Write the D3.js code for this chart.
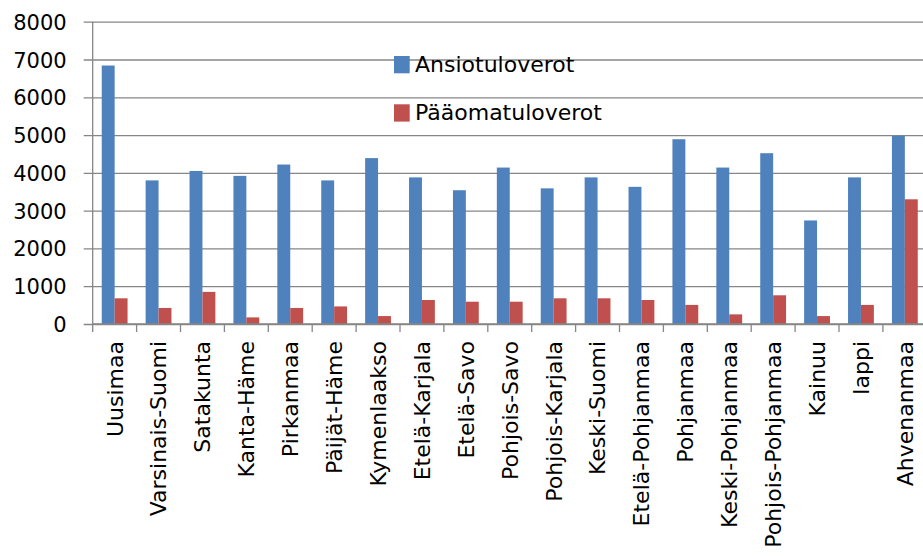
<!DOCTYPE html>
<html>
<head>
<meta charset="utf-8">
<script src="https://cdn.jsdelivr.net/npm/d3@7"></script>
<style>
    html, body { margin: 0; padding: 0; background: #fff; }
    text { font-family: "DejaVu Sans", sans-serif; fill: #000; }
</style>
</head>
<body>
<div id="chart"></div>
<script>
var regions = ["Uusimaa", "Varsinais-Suomi", "Satakunta", "Kanta-Häme", "Pirkanmaa",
    "Päijät-Häme", "Kymenlaakso", "Etelä-Karjala", "Etelä-Savo", "Pohjois-Savo",
    "Pohjois-Karjala", "Keski-Suomi", "Etelä-Pohjanmaa", "Pohjanmaa", "Keski-Pohjanmaa",
    "Pohjois-Pohjanmaa", "Kainuu", "lappi", "Ahvenanmaa"];
var ansiotuloverot = [6840, 3800, 4050, 3920, 4220, 3800, 4390, 3880, 3540, 4140,
    3590, 3880, 3630, 4890, 4140, 4520, 2740, 3880, 4980];
var paaomatuloverot = [680, 425, 850, 175, 425, 465, 210, 635, 590, 590,
    680, 680, 635, 505, 255, 760, 210, 505, 3300];
var seriesNames = ["Ansiotuloverot", "Pääomatuloverot"];
var yTicks = [0, 1000, 2000, 3000, 4000, 5000, 6000, 7000, 8000];

(function () {
    "use strict";

    var width = 923,
        height = 556;

    var colors = ["#4f81bd", "#c0504d"],
        gridColor = "#868686";

    // the plot runs a little past the right edge of the picture
    var left = 92.7,
        right = 926.8,
        top = 21.7,
        bottom = 324;

    var rows = regions.map(function (name, i) {
        return { name: name, values: [ansiotuloverot[i], paaomatuloverot[i]] };
    });

    var x = d3.scaleBand()
        .domain(regions)
        .range([left, right]);

    var y = d3.scaleLinear()
        .domain([0, 8000])
        .range([bottom, top]);

    var inner = d3.scaleBand()
        .domain([0, 1])
        .range([0, x.bandwidth()])
        .paddingInner(0)
        .paddingOuter(0.7);

    var svg = d3.select("#chart").append("svg")
        .attr("width", width)
        .attr("height", height);

    // gridlines and y labels
    var yAxis = svg.append("g")
        .attr("transform", "translate(" + left + ",0)")
        .call(d3.axisLeft(y)
            .tickValues(yTicks)
            .tickFormat(d3.format("d"))
            .tickSize(-(right - left))
            .tickSizeOuter(0)
            .tickPadding(26));
    yAxis.select(".domain").remove();
    yAxis.selectAll(".tick line")
        .attr("x1", -9)
        .attr("stroke", gridColor)
        .attr("stroke-width", 1.3);
    yAxis.selectAll(".tick text")
        .style("font-family", "'DejaVu Sans', sans-serif")
        .style("font-size", "21px")
        .attr("fill", "#000")
        .attr("dy", "0.36em");

    // y axis line
    svg.append("line")
        .attr("x1", left).attr("x2", left)
        .attr("y1", top).attr("y2", bottom)
        .attr("stroke", gridColor)
        .attr("stroke-width", 1.3);

    var g = svg.selectAll("g.region")
        .data(rows)
        .enter().append("g")
        .attr("class", "region")
        .attr("transform", function (d) { return "translate(" + x(d.name) + ",0)"; });

    g.selectAll("rect")
        .data(function (d) { return d.values; })
        .enter().append("rect")
        .attr("x", function (d, i) { return inner(i); })
        .attr("width", inner.bandwidth())
        .attr("y", function (d) { return y(d); })
        .attr("height", function (d) { return y(0) - y(d); })
        .attr("fill", function (d, i) { return colors[i]; });

    // category axis, ticks sit between the bands
    svg.append("line")
        .attr("x1", left).attr("x2", right)
        .attr("y1", bottom).attr("y2", bottom)
        .attr("stroke", gridColor)
        .attr("stroke-width", 1.3);

    svg.selectAll("line.sep")
        .data(d3.range(regions.length + 1))
        .enter().append("line")
        .attr("class", "sep")
        .attr("x1", function (i) { return left + i * x.step(); })
        .attr("x2", function (i) { return left + i * x.step(); })
        .attr("y1", bottom)
        .attr("y2", bottom + 8)
        .attr("stroke", gridColor)
        .attr("stroke-width", 1.3);

    svg.selectAll("text.cat")
        .data(regions)
        .enter().append("text")
        .attr("class", "cat")
        .attr("transform", function (d) {
            return "translate(" + (x(d) + x.bandwidth() / 2) + "," + (bottom + 17) + ")rotate(-90)";
        })
        .attr("text-anchor", "end")
        .attr("dy", "0.36em")
        .style("font-size", "22px")
        .text(function (d) { return d; });

    // legend
    var legend = svg.selectAll("g.legend")
        .data(seriesNames)
        .enter().append("g")
        .attr("class", "legend")
        .attr("transform", function (d, i) { return "translate(394," + (56 + i * 48.3) + ")"; });

    legend.append("rect")
        .attr("width", 15.7)
        .attr("height", 17.3)
        .attr("fill", function (d, i) { return colors[i]; });

    legend.append("text")
        .attr("x", 21)
        .attr("y", 16)
        .style("font-size", "22px")
        .text(function (d) { return d; });
})();
</script>
</body>
</html>
